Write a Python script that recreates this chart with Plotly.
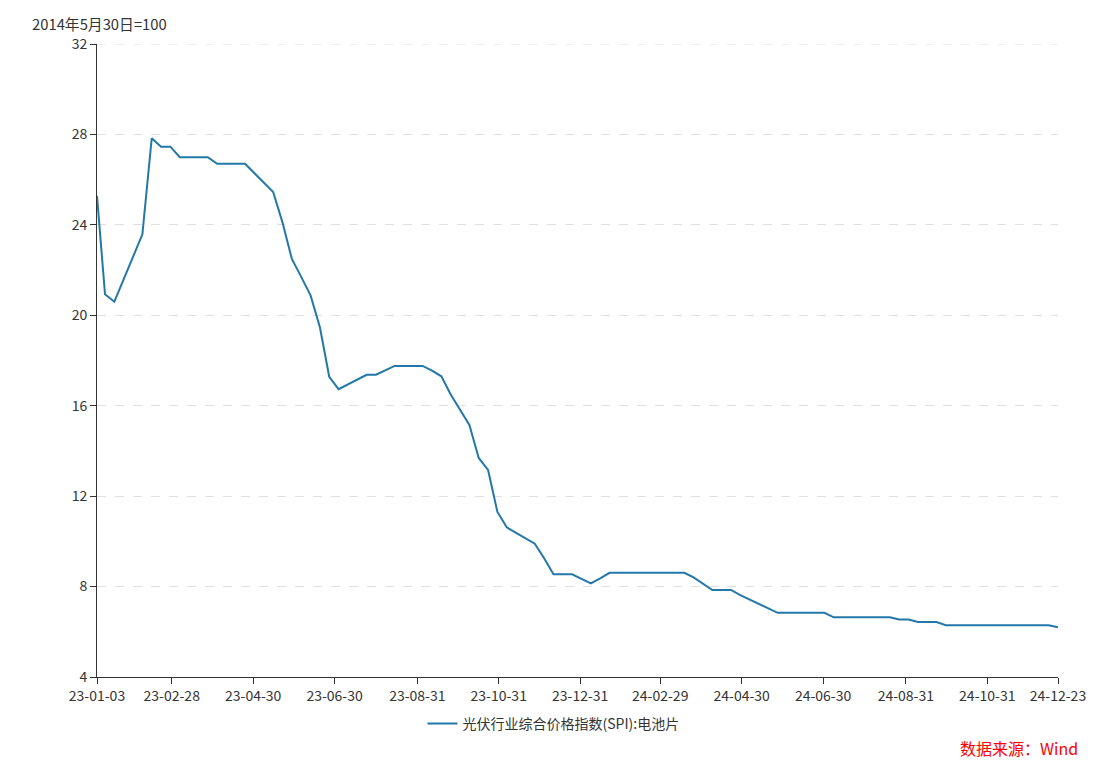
import plotly.graph_objects as go
import pandas as pd

first_date = ["2023-01-03"]
weekly_dates = [d.strftime("%Y-%m-%d") for d in pd.date_range("2023-01-09", "2024-12-23", freq="7D")]
dates = first_date + weekly_dates

values = [
    25.28,
    20.93, 20.60, 21.60, 22.60, 23.58, 27.83, 27.46, 27.46, 26.99, 26.99,
    26.99, 26.99, 26.70, 26.70, 26.70, 26.70, 26.28, 25.87, 25.45, 24.10,
    22.49, 21.70, 20.88, 19.47, 17.28, 16.73, 16.94, 17.14, 17.37, 17.37,
    17.57, 17.76, 17.76, 17.76, 17.76, 17.55, 17.30, 16.50, 15.83, 15.15,
    13.69, 13.16, 11.30, 10.62, 10.38, 10.14, 9.90, 9.25, 8.54, 8.54,
    8.54, 8.34, 8.14, 8.36, 8.61, 8.61, 8.61, 8.61, 8.61, 8.61,
    8.61, 8.61, 8.61, 8.41, 8.13, 7.85, 7.85, 7.85, 7.62, 7.43,
    7.23, 7.04, 6.84, 6.84, 6.84, 6.84, 6.84, 6.84, 6.64, 6.64,
    6.64, 6.64, 6.64, 6.64, 6.64, 6.54, 6.54, 6.43, 6.43, 6.43,
    6.29, 6.29, 6.29, 6.29, 6.29, 6.29, 6.29, 6.29, 6.29, 6.29,
    6.29, 6.29, 6.20,
]

tick_dates = ["2023-01-03", "2023-02-28", "2023-04-30", "2023-06-30", "2023-08-31",
              "2023-10-31", "2023-12-31", "2024-02-29", "2024-04-30", "2024-06-30",
              "2024-08-31", "2024-10-31", "2024-12-23"]
tick_labels = ["23-01-03", "23-02-28", "23-04-30", "23-06-30", "23-08-31",
               "23-10-31", "23-12-31", "24-02-29", "24-04-30", "24-06-30",
               "24-08-31", "24-10-31", "24-12-23"]
y_ticks = [4, 8, 12, 16, 20, 24, 28, 32]

series_name = "光伏行业综合价格指数(SPI):电池片"
font_family = "Noto Sans CJK SC, Microsoft YaHei, sans-serif"

fig = go.Figure()
fig.add_trace(go.Scatter(
    x=dates, y=values, mode="lines", name=series_name,
    line=dict(color="#2378a8", width=2),
))

fig.update_layout(
    width=1094, height=757,
    margin=dict(l=89, r=44, t=36, b=88),
    paper_bgcolor="white", plot_bgcolor="white",
    font=dict(family=font_family, size=13, color="#333333"),
    showlegend=True,
    legend=dict(orientation="h", x=0.475, xanchor="center", y=-0.074, yanchor="middle",
                itemwidth=30, font=dict(size=14, color="#333333")),
    xaxis=dict(
        type="date",
        range=["2023-01-03", "2024-12-23"],
        tickvals=tick_dates, ticktext=tick_labels,
        showline=True, linecolor="#333333", linewidth=1,
        ticks="outside", ticklen=6, tickcolor="#333333",
        showgrid=False, zeroline=False,
        tickfont=dict(size=14, color="#333333"),
    ),
    yaxis=dict(
        range=[4, 32], tickvals=y_ticks,
        showline=True, linecolor="#333333", linewidth=1,
        ticks="outside", ticklen=6, tickcolor="#333333",
        showgrid=True, gridcolor="#e0e0e0", griddash="dash", gridwidth=1,
        zeroline=False,
        tickfont=dict(size=14, color="#333333"),
    ),
    shapes=[
        dict(type="line", xref="paper", yref="y", x0=0, x1=1, y0=32, y1=32,
             line=dict(color="#e0e0e0", width=1, dash="dash"), layer="below"),
    ],
    annotations=[
        dict(text="2014年5月30日=100", xref="paper", yref="paper",
             x=-0.0697, y=1.0, xanchor="left", yanchor="middle", yshift=21,
             showarrow=False, font=dict(size=14.8, color="#333333")),
        dict(text="数据来源：Wind", xref="paper", yref="paper",
             x=1.0229, y=-0.112, xanchor="right", yanchor="middle",
             showarrow=False, font=dict(size=16, color="#ff0000")),
    ],
)

fig.write_html("out.html")
